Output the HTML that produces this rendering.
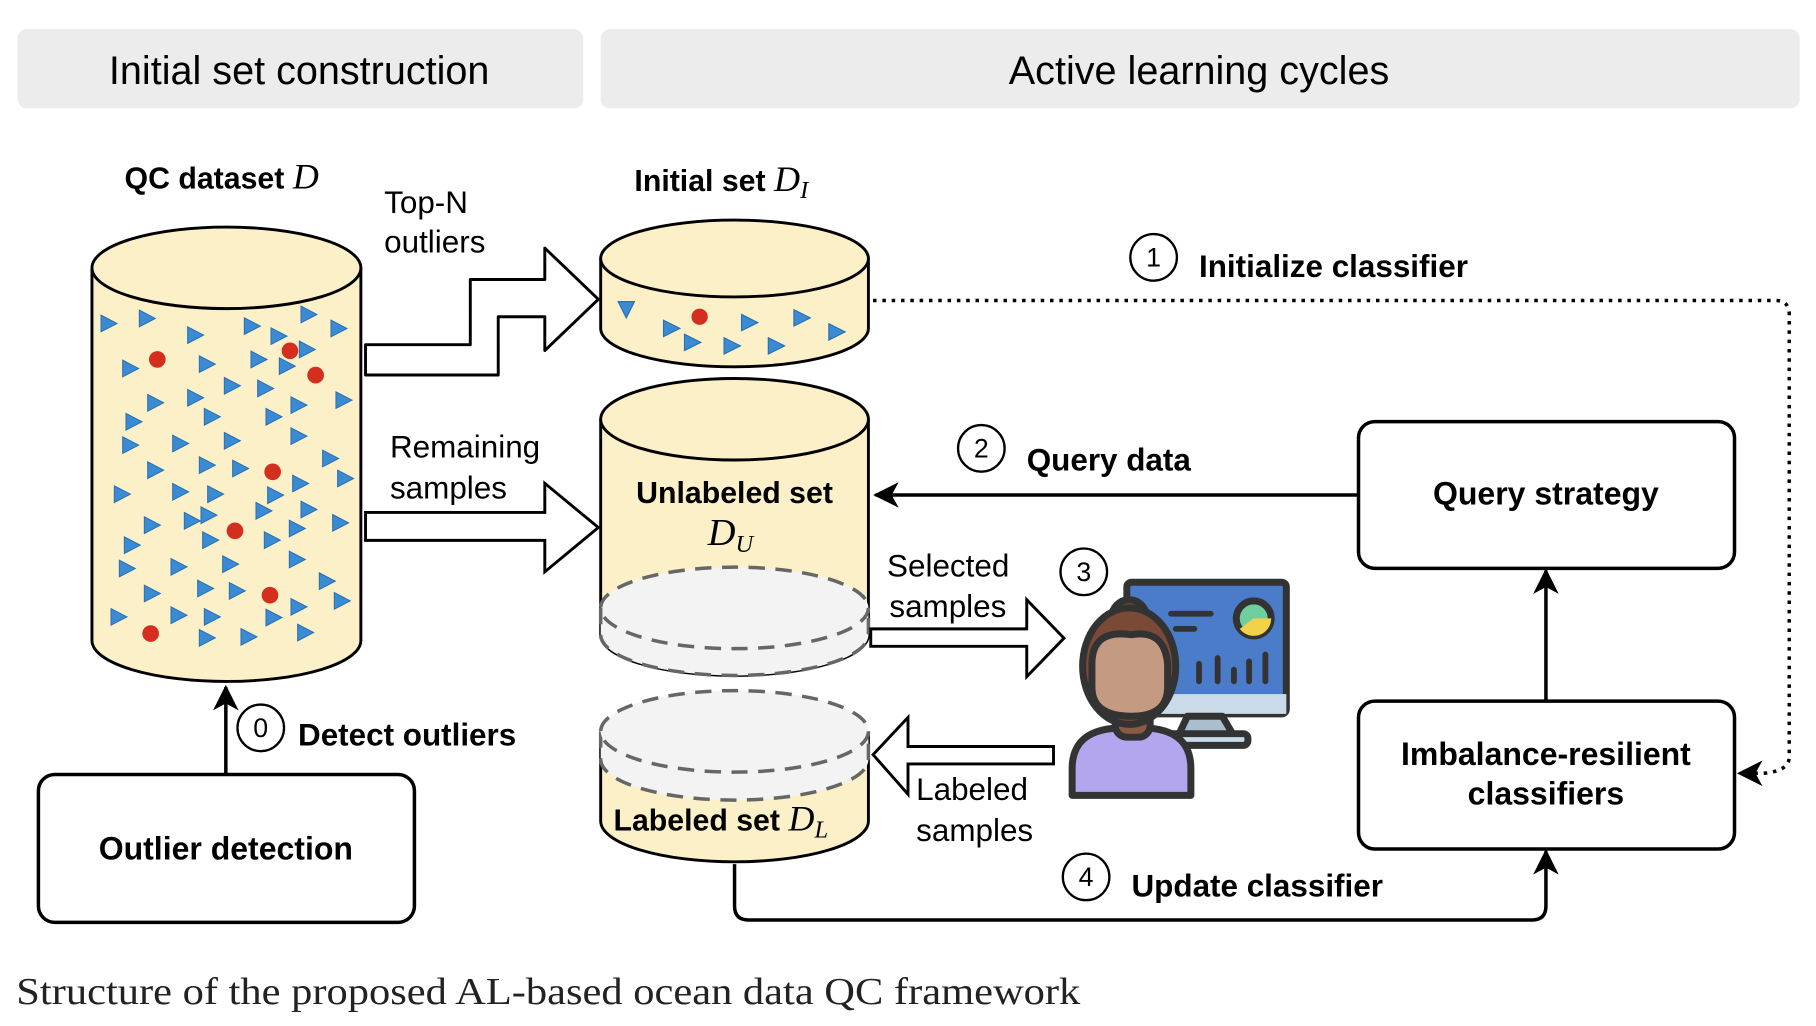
<!DOCTYPE html>
<html><head><meta charset="utf-8"><style>
html,body{margin:0;padding:0;background:#fff;width:1816px;height:1026px;overflow:hidden}
svg{display:block}
.b{font-weight:bold}
</style></head><body>
<svg width="1816" height="1026" viewBox="0 0 1560 881" preserveAspectRatio="none" xmlns="http://www.w3.org/2000/svg" font-family="Liberation Sans, sans-serif">
<defs>
<path id="tri" d="M-22,-25 L26,0 L-22,25 Z" fill="#3b8ad4" stroke="#2a6fb0" stroke-width="3"/>
<path id="tr2" d="M-6,-7 L8,0 L-6,7 Z" fill="#3b8ad4" stroke="#2a6fb0" stroke-width="1"/>
<marker id="ahb" markerWidth="22" markerHeight="22" refX="20" refY="11" orient="auto" markerUnits="userSpaceOnUse"><path d="M0,0 L22,11 L0,22 L6,11 Z" fill="#000"/></marker>
</defs>
<!-- headers -->
<rect x="15" y="25" width="486" height="68" rx="8" fill="#ececec"/>
<rect x="516" y="25" width="1030" height="68" rx="8" fill="#ececec"/>
<text x="257" y="72" font-size="34" text-anchor="middle">Initial set construction</text>
<text x="1030" y="72" font-size="34" text-anchor="middle">Active learning cycles</text>

<!-- QC cylinder -->
<path d="M79,230 L79,550 A115,35 0 0 0 310,550 L310,230" fill="#fcf0c9" stroke="#000" stroke-width="2.5"/>
<ellipse cx="194.5" cy="230" rx="115.5" ry="35" fill="#fcf0c9" stroke="#000" stroke-width="2.5"/>
<g transform="scale(0.859) translate(80,220) scale(0.3333)">
<use href="#tri" x="85" y="310"/><use href="#tri" x="200" y="295"/><use href="#tri" x="345" y="345"/><use href="#tri" x="515" y="318"/><use href="#tri" x="595" y="348"/><use href="#tri" x="685" y="283"/><use href="#tri" x="775" y="325"/><use href="#tri" x="150" y="445"/><use href="#tri" x="380" y="432"/><use href="#tri" x="535" y="418"/><use href="#tri" x="620" y="438"/><use href="#tri" x="680" y="388"/><use href="#tri" x="455" y="497"/><use href="#tri" x="555" y="505"/><use href="#tri" x="225" y="548"/><use href="#tri" x="345" y="533"/><use href="#tri" x="655" y="555"/><use href="#tri" x="790" y="540"/><use href="#tri" x="160" y="605"/><use href="#tri" x="395" y="590"/><use href="#tri" x="580" y="590"/><use href="#tri" x="150" y="675"/><use href="#tri" x="300" y="670"/><use href="#tri" x="455" y="662"/><use href="#tri" x="655" y="648"/><use href="#tri" x="750" y="715"/><use href="#tri" x="225" y="750"/><use href="#tri" x="380" y="735"/><use href="#tri" x="480" y="745"/><use href="#tri" x="795" y="775"/><use href="#tri" x="125" y="822"/><use href="#tri" x="300" y="815"/><use href="#tri" x="405" y="822"/><use href="#tri" x="585" y="825"/><use href="#tri" x="660" y="790"/><use href="#tri" x="215" y="915"/><use href="#tri" x="335" y="902"/><use href="#tri" x="385" y="885"/><use href="#tri" x="550" y="872"/><use href="#tri" x="685" y="868"/><use href="#tri" x="780" y="908"/><use href="#tri" x="155" y="975"/><use href="#tri" x="390" y="960"/><use href="#tri" x="575" y="960"/><use href="#tri" x="650" y="925"/><use href="#tri" x="140" y="1045"/><use href="#tri" x="295" y="1040"/><use href="#tri" x="450" y="1032"/><use href="#tri" x="650" y="1018"/><use href="#tri" x="740" y="1083"/><use href="#tri" x="215" y="1120"/><use href="#tri" x="375" y="1105"/><use href="#tri" x="470" y="1112"/><use href="#tri" x="785" y="1142"/><use href="#tri" x="115" y="1190"/><use href="#tri" x="295" y="1185"/><use href="#tri" x="395" y="1190"/><use href="#tri" x="580" y="1192"/><use href="#tri" x="655" y="1160"/><use href="#tri" x="380" y="1253"/><use href="#tri" x="505" y="1250"/><use href="#tri" x="675" y="1237"/>
<g fill="#d42e1e"><circle cx="232" cy="418" r="25"/><circle cx="630" cy="392" r="25"/><circle cx="707" cy="465" r="25"/><circle cx="578" cy="755" r="25"/><circle cx="465" cy="932" r="25"/><circle cx="570" cy="1125" r="25"/><circle cx="212" cy="1240" r="25"/></g>
</g>
<text x="107" y="162" font-size="26" class="b">QC dataset <tspan style="font-family:'Liberation Serif',serif;font-style:italic;font-weight:normal" font-size="31">D</tspan></text>

<!-- Initial set cylinder -->
<path d="M516,222 L516,282 A115,33 0 0 0 746,282 L746,222" fill="#fcf0c9" stroke="#000" stroke-width="2.5"/>
<ellipse cx="631" cy="222" rx="115" ry="33" fill="#fcf0c9" stroke="#000" stroke-width="2.5"/>
<use href="#tr2" x="538" y="265" transform="rotate(90 538 265)"/>
<use href="#tr2" x="576" y="282"/><use href="#tr2" x="594" y="294"/><use href="#tr2" x="628" y="297"/><use href="#tr2" x="643" y="277"/><use href="#tr2" x="666" y="297"/><use href="#tr2" x="688" y="273"/><use href="#tr2" x="718" y="285"/>
<circle cx="601" cy="272" r="7" fill="#d42e1e"/>
<text x="545" y="164" font-size="26" class="b">Initial set <tspan style="font-family:'Liberation Serif',serif;font-style:italic;font-weight:normal" font-size="31">D</tspan><tspan style="font-family:'Liberation Serif',serif;font-style:italic;font-weight:normal" font-size="21" dy="6">I</tspan></text>

<!-- Unlabeled cylinder -->
<path d="M516,360 L516,545 A115,35 0 0 0 746,545 L746,360" fill="#fcf0c9" stroke="#000" stroke-width="2.5"/>
<path d="M516,522 L516,545 A115,35 0 0 0 746,545 L746,522 Z" fill="#f3f3f3"/>
<ellipse cx="631" cy="522" rx="115" ry="35" fill="#f3f3f3" stroke="#666" stroke-width="3" stroke-dasharray="14,9"/>
<path d="M516,522 L516,545 A115,35 0 0 0 746,545 L746,522" fill="none" stroke="#666" stroke-width="3" stroke-dasharray="14,9"/>
<ellipse cx="631" cy="360" rx="115" ry="35" fill="#fcf0c9" stroke="#000" stroke-width="2.5"/>
<text x="631" y="432" font-size="26" class="b" text-anchor="middle">Unlabeled set</text>
<text x="608" y="468" font-size="33" style="font-family:'Liberation Serif',serif;font-style:italic">D<tspan font-size="21" dy="6">U</tspan></text>

<!-- Labeled cylinder -->
<path d="M516,628 L516,705 A115,35 0 0 0 746,705 L746,628" fill="#fcf0c9" stroke="#000" stroke-width="2.5"/>
<path d="M516,628 L516,652 A115,35 0 0 0 746,652 L746,628 Z" fill="#f3f3f3"/>
<path d="M516,628 L516,652 A115,35 0 0 0 746,652 L746,628" fill="none" stroke="#666" stroke-width="3" stroke-dasharray="14,9"/>
<ellipse cx="631" cy="628" rx="115" ry="35" fill="#f3f3f3" stroke="#666" stroke-width="3" stroke-dasharray="14,9"/>
<text x="527" y="713" font-size="26" class="b">Labeled set <tspan style="font-family:'Liberation Serif',serif;font-style:italic;font-weight:normal" font-size="31">D</tspan><tspan style="font-family:'Liberation Serif',serif;font-style:italic;font-weight:normal" font-size="21" dy="6">L</tspan></text>

<!-- hollow arrows -->
<path d="M314,296 L404,296 L404,240 L468,240 L468,213 L514,257 L468,301 L468,272 L428,272 L428,322 L314,322 Z" fill="#fff" stroke="#000" stroke-width="2.5" stroke-linejoin="round"/>
<path d="M314,440 L468,440 L468,415 L514,453 L468,491 L468,464 L314,464 Z" fill="#fff" stroke="#000" stroke-width="2.5"/>
<path d="M748,540 L882,540 L882,515 L914,548 L882,581 L882,555 L748,555 Z" fill="#fff" stroke="#000" stroke-width="2.5"/>
<path d="M905,641 L780,641 L780,616 L750,648 L780,682 L780,656 L905,656 Z" fill="#fff" stroke="#000" stroke-width="2.5"/>
<text x="330" y="183" font-size="27">Top-N</text>
<text x="330" y="217" font-size="27">outliers</text>
<text x="335" y="393" font-size="27">Remaining</text>
<text x="335" y="428" font-size="27">samples</text>
<text x="762" y="495" font-size="27">Selected</text>
<text x="764" y="530" font-size="27">samples</text>
<text x="787" y="687" font-size="27">Labeled</text>
<text x="787" y="722" font-size="27">samples</text>

<!-- boxes -->
<rect x="33" y="665" width="323" height="127" rx="14" fill="#fff" stroke="#000" stroke-width="3"/>
<text x="194" y="738" font-size="27.5" class="b" text-anchor="middle">Outlier detection</text>
<rect x="1167" y="362" width="323" height="126" rx="14" fill="#fff" stroke="#000" stroke-width="3"/>
<text x="1328" y="433" font-size="27.5" class="b" text-anchor="middle">Query strategy</text>
<rect x="1167" y="602" width="323" height="127" rx="14" fill="#fff" stroke="#000" stroke-width="3"/>
<text x="1328" y="657" font-size="27.5" class="b" text-anchor="middle">Imbalance-resilient</text>
<text x="1328" y="691" font-size="27.5" class="b" text-anchor="middle">classifiers</text>

<!-- connectors -->
<line x1="194" y1="665" x2="194" y2="590" stroke="#000" stroke-width="3" marker-end="url(#ahb)"/>
<line x1="1167" y1="425" x2="752" y2="425" stroke="#000" stroke-width="3" marker-end="url(#ahb)"/>
<line x1="1328" y1="602" x2="1328" y2="490" stroke="#000" stroke-width="3" marker-end="url(#ahb)"/>
<path d="M631,742 L631,778 Q631,790 643,790 L1316,790 Q1328,790 1328,778 L1328,731" fill="none" stroke="#000" stroke-width="3" marker-end="url(#ahb)"/>
<path d="M750,258 L1525,258 Q1537,258 1537,270 L1537,650 Q1537,662 1515,664 L1494,664" fill="none" stroke="#000" stroke-width="3" stroke-dasharray="3,5" marker-end="url(#ahb)"/>

<!-- numbered circles -->
<g fill="#fff" stroke="#000" stroke-width="2">
<circle cx="224" cy="625" r="20"/><circle cx="991" cy="221" r="20"/><circle cx="843" cy="385" r="20"/><circle cx="931" cy="491" r="20"/><circle cx="933" cy="753" r="20"/>
</g>
<g font-size="23" text-anchor="middle">
<text x="224" y="633">0</text><text x="991" y="229">1</text><text x="843" y="393">2</text><text x="931" y="499">3</text><text x="933" y="761">4</text>
</g>
<text x="256" y="640" font-size="27" class="b">Detect outliers</text>
<text x="1030" y="238" font-size="27" class="b">Initialize classifier</text>
<text x="882" y="404" font-size="27" class="b">Query data</text>
<text x="972" y="770" font-size="27" class="b">Update classifier</text>

<!-- person & monitor -->
<g stroke="#333" stroke-width="6" stroke-linejoin="round">
<rect x="968" y="500" width="137" height="113" rx="4" fill="#4a7cc9"/>
<rect x="968" y="596" width="137" height="17" fill="#c9dbe8" stroke="none"/>
<path d="M1020,615 L1012,632 L1060,632 L1050,615 Z" fill="#a9bfd0"/>
<rect x="1000" y="630" width="72" height="10" rx="4" fill="#c9dbe8"/>
<circle cx="1077" cy="531" r="15" fill="#6fcf9f"/>
</g>
<path d="M1077,531 L1092,531 A15,15 0 0 1 1065,540 Z" fill="#f2d24a"/>
<g stroke="#333" stroke-width="5" stroke-linecap="round">
<line x1="1006" y1="527" x2="1040" y2="527"/><line x1="1010" y1="540" x2="1026" y2="540"/>
<line x1="1030" y1="585" x2="1030" y2="570"/><line x1="1046" y1="585" x2="1046" y2="565"/><line x1="1060" y1="585" x2="1060" y2="575"/><line x1="1073" y1="585" x2="1073" y2="568"/><line x1="1087" y1="585" x2="1087" y2="562"/>
</g>
<g stroke="#333" stroke-width="6" stroke-linejoin="round">
<path d="M921,683 L921,660 Q921,625 965,625 L980,625 Q1023,625 1023,660 L1023,683 Z" fill="#b3a6ee"/>
<rect x="958" y="595" width="30" height="38" rx="10" fill="#8b5a44"/>
<circle cx="970" cy="530" r="15" fill="#7a4a36"/>
<ellipse cx="970" cy="572" rx="40" ry="50" fill="#7a4a36"/>
<path d="M938,570 Q938,540 972,545 Q1000,540 1003,570 L1003,590 Q1003,615 972,615 Q938,615 938,590 Z" fill="#c59a82"/>
</g>

<text x="14" y="862" font-size="33" style="font-family:'Liberation Serif',serif" fill="#222" textLength="914" lengthAdjust="spacingAndGlyphs">Structure of the proposed AL-based ocean data QC framework</text>
</svg>
</body></html>
